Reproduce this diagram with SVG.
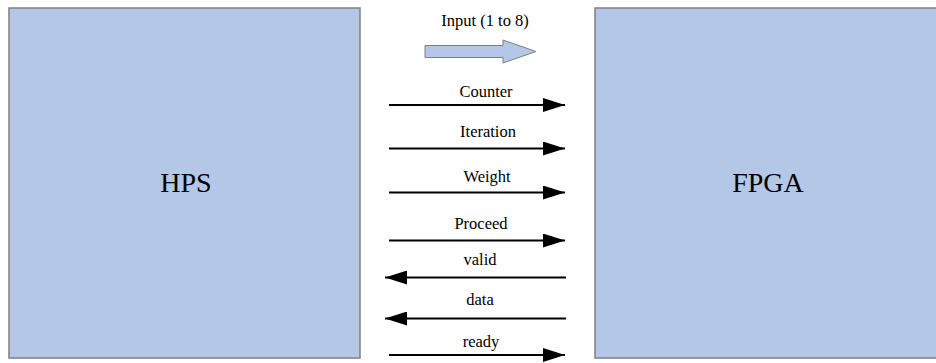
<svg xmlns="http://www.w3.org/2000/svg" width="936" height="363" viewBox="0 0 936 363">
<style>
.box{fill:#b4c7e7;stroke:#7f7f7f;stroke-width:1.5}
.big{font-family:"Liberation Serif","Times New Roman",serif;font-size:28px;fill:#000;text-anchor:middle}
.lbl{font-family:"Liberation Serif","Times New Roman",serif;font-size:16.5px;fill:#000;text-anchor:middle}
.ln{stroke:#000;stroke-width:2;fill:none}
</style>
<defs>
<marker id="ah" markerWidth="11" markerHeight="7" refX="11" refY="3.5" orient="auto" markerUnits="strokeWidth">
<path d="M0,0 L11,3.5 L0,7 Z" fill="#000"/>
</marker>
</defs>
<g id="hps"><rect class="box" x="9" y="8" width="351" height="350"/><text class="big" x="186" y="192">HPS</text></g>
<g id="fpga"><rect class="box" x="595" y="8" width="345" height="350"/><text class="big" x="768" y="192">FPGA</text></g>
<g id="input">
<path d="M425,45.5 L503,45.5 L503,40 L536,51.5 L503,63 L503,57.5 L425,57.5 Z" fill="#b4c7e7" stroke="#7f7f7f" stroke-width="1"/>
<text class="lbl" x="485" y="26">Input (1 to 8)</text>
</g>
<g id="connectors">
<line class="ln" x1="389" y1="105" x2="565" y2="105" marker-end="url(#ah)"/>
<line class="ln" x1="389" y1="148.5" x2="565" y2="148.5" marker-end="url(#ah)"/>
<line class="ln" x1="389" y1="192.5" x2="565" y2="192.5" marker-end="url(#ah)"/>
<line class="ln" x1="389" y1="240.5" x2="565" y2="240.5" marker-end="url(#ah)"/>
<line class="ln" x1="566" y1="277.5" x2="385" y2="277.5" marker-end="url(#ah)"/>
<line class="ln" x1="566" y1="318.5" x2="385" y2="318.5" marker-end="url(#ah)"/>
<line class="ln" x1="389" y1="355" x2="565" y2="355" marker-end="url(#ah)"/>
<text class="lbl" x="486" y="97">Counter</text>
<text class="lbl" x="488" y="137">Iteration</text>
<text class="lbl" x="487" y="182">Weight</text>
<text class="lbl" x="481" y="229">Proceed</text>
<text class="lbl" x="480" y="265">valid</text>
<text class="lbl" x="480" y="305">data</text>
<text class="lbl" x="481" y="347">ready</text>
</g>
</svg>
